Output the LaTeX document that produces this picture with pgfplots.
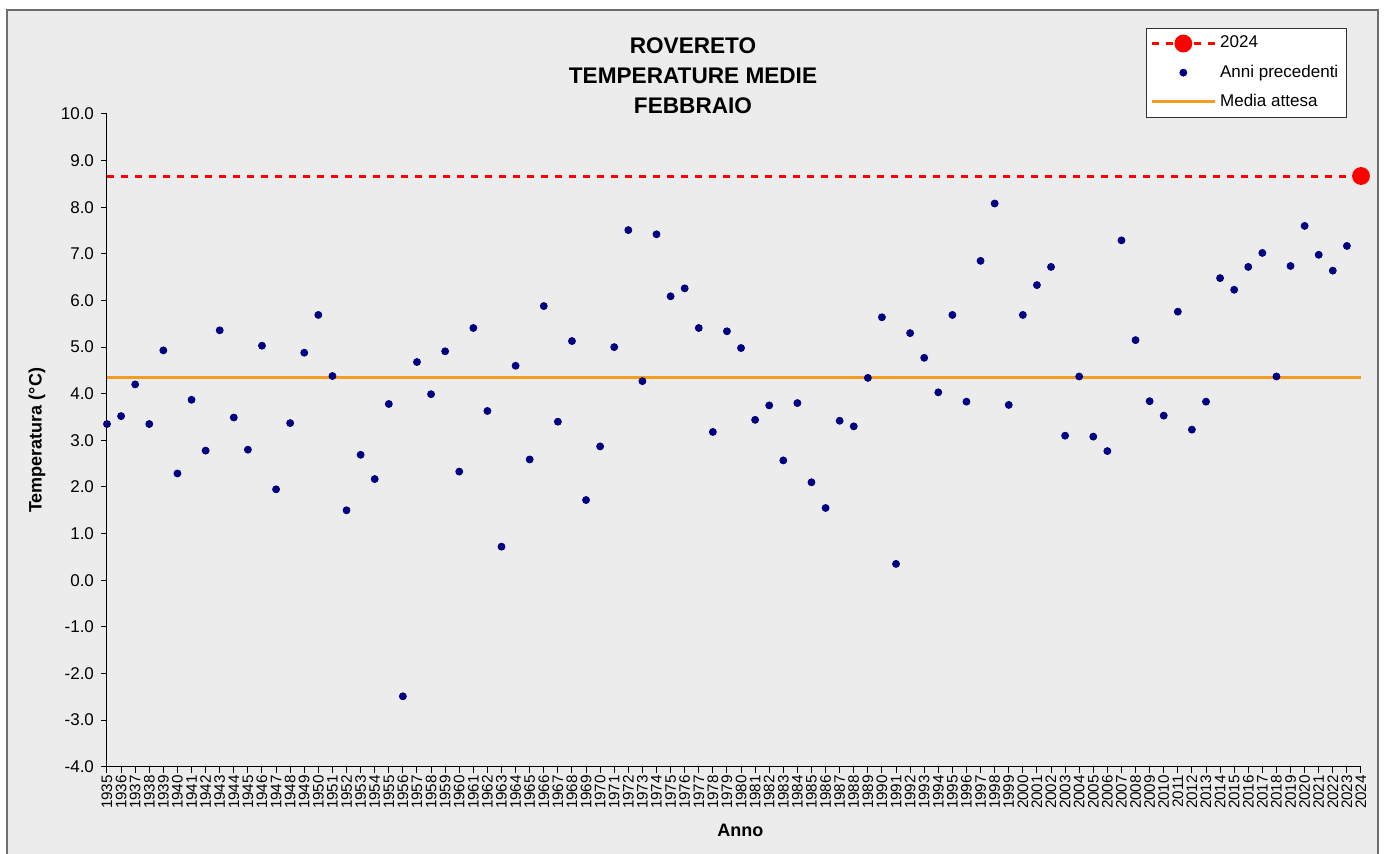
\documentclass[border=0pt]{standalone}
\usepackage{pgfplots}
\pgfplotsset{compat=1.18}
\usepackage{pgfplotstable}
\usepackage{fontspec}
\setmainfont{Liberation Sans}
\definecolor{bgcol}{RGB}{236,236,236}
\definecolor{navypt}{RGB}{0,0,128}
\definecolor{mediaor}{RGB}{243,157,31}
\definecolor{framegray}{RGB}{110,110,110}

% Febbraio, temperature medie (gradi C)
\pgfplotstableread{
anno temp
1935 3.35
1936 3.52
1937 4.20
1938 3.35
1939 4.93
1940 2.29
1941 3.87
1942 2.78
1943 5.36
1944 3.49
1945 2.80
1946 5.03
1947 1.95
1948 3.37
1949 4.88
1950 5.69
1951 4.38
1952 1.50
1953 2.69
1954 2.17
1955 3.78
1956 -2.49
1957 4.68
1958 3.99
1959 4.91
1960 2.33
1961 5.41
1962 3.63
1963 0.72
1964 4.60
1965 2.59
1966 5.88
1967 3.40
1968 5.13
1969 1.72
1970 2.87
1971 5.00
1972 7.51
1973 4.27
1974 7.42
1975 6.09
1976 6.26
1977 5.41
1978 3.18
1979 5.34
1980 4.98
1981 3.44
1982 3.75
1983 2.57
1984 3.80
1985 2.10
1986 1.55
1987 3.42
1988 3.30
1989 4.34
1990 5.64
1991 0.35
1992 5.30
1993 4.77
1994 4.03
1995 5.69
1996 3.83
1997 6.85
1998 8.08
1999 3.76
2000 5.69
2001 6.33
2002 6.72
2003 3.10
2004 4.37
2005 3.08
2006 2.77
2007 7.29
2008 5.15
2009 3.84
2010 3.53
2011 5.76
2012 3.23
2013 3.83
2014 6.48
2015 6.23
2016 6.72
2017 7.02
2018 4.37
2019 6.74
2020 7.60
2021 6.98
2022 6.64
2023 7.17
}\precedenti

\begin{document}
\begin{tikzpicture}
\useasboundingbox (0,0) rectangle (693pt,426.5pt);
\fill[white] (0,0) rectangle (693pt,426.5pt);
\draw[draw=framegray, line width=1pt, fill=bgcol] (3.5pt,-5pt) rectangle (689pt,421.5pt);
\node[font=\bfseries\fontsize{11.3}{15}\selectfont, align=center] at (346.5pt,388.5pt)
  {ROVERETO\\TEMPERATURE MEDIE\\FEBBRAIO};
\begin{axis}[
    at={(53.5pt,43.15pt)}, anchor=south west,
    scale only axis, width=627pt, height=326.35pt,
    xmin=1935, xmax=2024, ymin=-4, ymax=10,
    clip=false,
    axis lines*=left,
    axis line style={line width=0.5pt},
    tick align=outside, major tick length=3pt,
    every tick/.style={black, line width=0.5pt},
    xtick={1935,1936,...,2024},
    ytick={-4,-3,...,10},
    /pgf/number format/assume math mode=true,
    xticklabel style={rotate=90, anchor=east, inner sep=1pt,
      font=\fontsize{7.6}{8}\selectfont,
      /pgf/number format/1000 sep={}},
    yticklabel style={font=\fontsize{8.5}{10}\selectfont,
      /pgf/number format/.cd, fixed, fixed zerofill, precision=1},
    xlabel={Anno},
    ylabel={Temperatura (°C)},
    xlabel style={font=\bfseries\fontsize{9}{10}\selectfont,
      at={(axis description cs:0.505,-0.097)}, anchor=center},
    ylabel style={font=\bfseries\fontsize{9}{10}\selectfont,
      at={(axis description cs:-0.0558,0.5)}, anchor=center},
    legend style={at={(axis description cs:0.9886,1.1322)}, anchor=north east,
      draw=black!80, fill=white, font=\fontsize{8.5}{10}\selectfont,
      inner xsep=2pt, inner ysep=2pt, row sep=3pt, cells={anchor=west}},
    legend image code/.code={\draw[mark repeat=2,mark phase=2,#1]
      plot coordinates {(0cm,0cm) (0.55cm,0cm) (1.1cm,0cm)};},
]
\addlegendimage{red, line width=1.5pt, dash pattern=on 3.6pt off 3.4pt,
  mark=*, mark size=3.7pt, mark options={solid, fill=red, draw=red}}
\addlegendentry{2024}
\addlegendimage{only marks, mark=*, mark size=1.75pt, navypt,
  mark options={fill=navypt}}
\addlegendentry{Anni precedenti}
\addlegendimage{mediaor, line width=1.5pt}
\addlegendentry{Media attesa}

\addplot[forget plot, red, line width=1.5pt, dash pattern=on 3.6pt off 3.4pt,
  mark=*, mark indices={2}, mark size=3.7pt,
  mark options={solid, fill=red, draw=red}]
  coordinates {(1935,8.67) (2024,8.67)};
\addplot[forget plot, mediaor, line width=1.5pt]
  coordinates {(1935,4.35) (2024,4.35)};
\addplot[forget plot, only marks, mark=*, mark size=1.75pt, navypt,
  mark options={fill=navypt}] table[x=anno, y=temp] {\precedenti};
\end{axis}
\end{tikzpicture}
\end{document}
